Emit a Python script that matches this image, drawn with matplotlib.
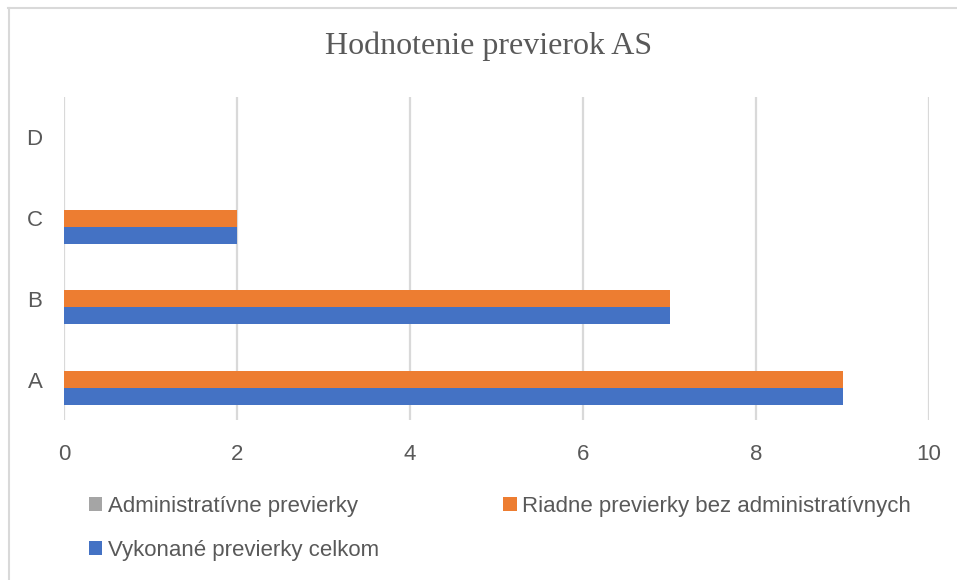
import matplotlib
matplotlib.use("Agg")
import matplotlib.pyplot as plt
import numpy as np
from matplotlib.lines import Line2D

categories = ["A", "B", "C", "D"]
series_names = ["Vykonané previerky celkom",
                "Riadne previerky bez administratívnych",
                "Administratívne previerky"]
vykonane = [9, 7, 2, 0]
riadne = [9, 7, 2, 0]
administrativne = [0, 0, 0, 0]
xticks = [0, 2, 4, 6, 8, 10]
title = "Hodnotenie previerok AS"

colors = ["#4472C4", "#ED7D31", "#A5A5A5"]
txt = "#595959"
grid = "#D9D9D9"

W, H = 957, 580
fig = plt.figure(figsize=(W / 100, H / 100), dpi=100)
fig.patch.set_facecolor("white")

ax = fig.add_axes([64 / W, (H - 420) / H, (929 - 64) / W, (420 - 97) / H])
y = np.arange(len(categories))
h = 0.21
data = [vykonane, riadne, administrativne]
offs = [-h, 0, h]
bars = []
for vals, off, c, name in zip(data, offs, colors, series_names):
    b = ax.barh(y + off, vals, height=h, color=c, label=name, zorder=3)
    bars.append(b)

ax.set_xlim(0, 10)
ax.set_ylim(-0.5, len(categories) - 0.5)
ax.set_xticks(xticks)
ax.set_yticks(y)
ax.set_yticklabels(categories)
for s in ax.spines.values():
    s.set_visible(False)
ax.grid(axis="x", color=grid, linewidth=1.6, zorder=0)
ax.tick_params(axis="both", length=0, labelsize=16, labelcolor=txt)
ax.tick_params(axis="x", pad=17)
ax.tick_params(axis="y", pad=15.5)
for lab in ax.get_xticklabels() + ax.get_yticklabels():
    lab.set_fontfamily(["Liberation Sans", "DejaVu Sans"])

fig.text(489 / W, 1 - 46 / H, title, ha="center", va="center",
         fontsize=23, color=txt, family=["Liberation Serif", "DejaVu Serif"])

# legend: row-wise order -> gray, orange on row 1; blue on row 2
handles = [bars[2], bars[0], bars[1]]
labels = [series_names[2], series_names[0], series_names[1]]
leg = fig.legend(handles, labels, ncol=2, loc="upper left",
                 bbox_to_anchor=(80 / W, 1 - 487 / H),
                 frameon=False,
                 prop={"family": ["Liberation Sans", "DejaVu Sans"], "size": 16},
                 handlelength=0.6, handleheight=0.6, handletextpad=0.25,
                 columnspacing=5.6, labelspacing=1.05, borderaxespad=0)
for t in leg.get_texts():
    t.set_color(txt)

# chart frame (top and left edges visible)
fig.add_artist(Line2D([8 / W, 1], [1 - 8 / H, 1 - 8 / H], color="#D9D9D9", linewidth=1.5))
fig.add_artist(Line2D([9 / W, 9 / W], [0, 1 - 8 / H], color="#D9D9D9", linewidth=1.5))

fig.savefig("out.png", dpi=100, facecolor="white")
